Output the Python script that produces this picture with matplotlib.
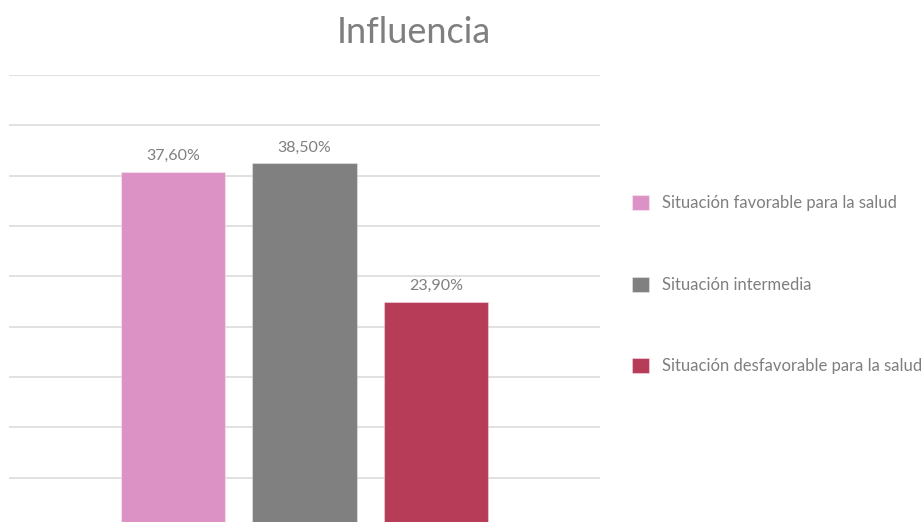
import matplotlib
matplotlib.use("Agg")
import matplotlib.pyplot as plt
import numpy as np

categories = ["Situación favorable para la salud", "Situación intermedia", "Situación desfavorable para la salud"]
values = [37.6, 38.5, 23.9]
labels = ["37,60%", "38,50%", "23,90%"]
colors = ["#DD92C6", "#808080", "#B73C58"]
title = "Influencia"

plt.rcParams['font.family'] = ['Lato', 'DejaVu Sans']
TXT = "#7f7f7f"

W, H = 923, 522
fig = plt.figure(figsize=(W / 100, H / 100), dpi=100)
fig.patch.set_facecolor("white")

# axes placement in pixel units
left, right, top, bottom = 9, 600, 75, 528
ax = fig.add_axes([left / W, (H - bottom) / H, (right - left) / W, (bottom - top) / H])

ymax = 47.8
ax.set_ylim(0, ymax)
ax.set_xlim(-1.244, 3.244)
ax.set_yticks(np.linspace(0, ymax, 10))
ax.set_xticks([])
ax.tick_params(left=False, labelleft=False)
for s in ax.spines.values():
    s.set_visible(False)
ax.yaxis.grid(True, color="#d9d9d9", linewidth=1.1)
ax.set_axisbelow(True)

x = np.arange(len(values))
bars = ax.bar(x, values, width=0.794, color=colors, edgecolor=[(1, 1, 1, 0.35)] * 3,
              linewidth=0.8, label=None, zorder=3)
for b, lab in zip(bars, labels):
    ax.annotate(lab, (b.get_x() + b.get_width() / 2, b.get_height()),
                xytext=(0, 6), textcoords="offset points", ha="center", va="bottom",
                fontsize=11.5, color=TXT)

handles = [plt.Rectangle((0, 0), 1, 1, facecolor=c, edgecolor=(1, 1, 1, 0.35), linewidth=0.8) for c in colors]
leg = fig.legend(handles, categories, loc="upper left",
                 bbox_to_anchor=(632 / W, 1 - 195 / H), frameon=False,
                 fontsize=12.0, handlelength=1.02, handleheight=1.02,
                 handletextpad=0.75, labelspacing=3.92, borderaxespad=0, borderpad=0)
for t in leg.get_texts():
    t.set_color(TXT)

fig.text(414 / W, 1 - 42.7 / H, title, ha="center", va="baseline", fontsize=26, color=TXT)

fig.savefig("out.png", dpi=100, facecolor="white")
